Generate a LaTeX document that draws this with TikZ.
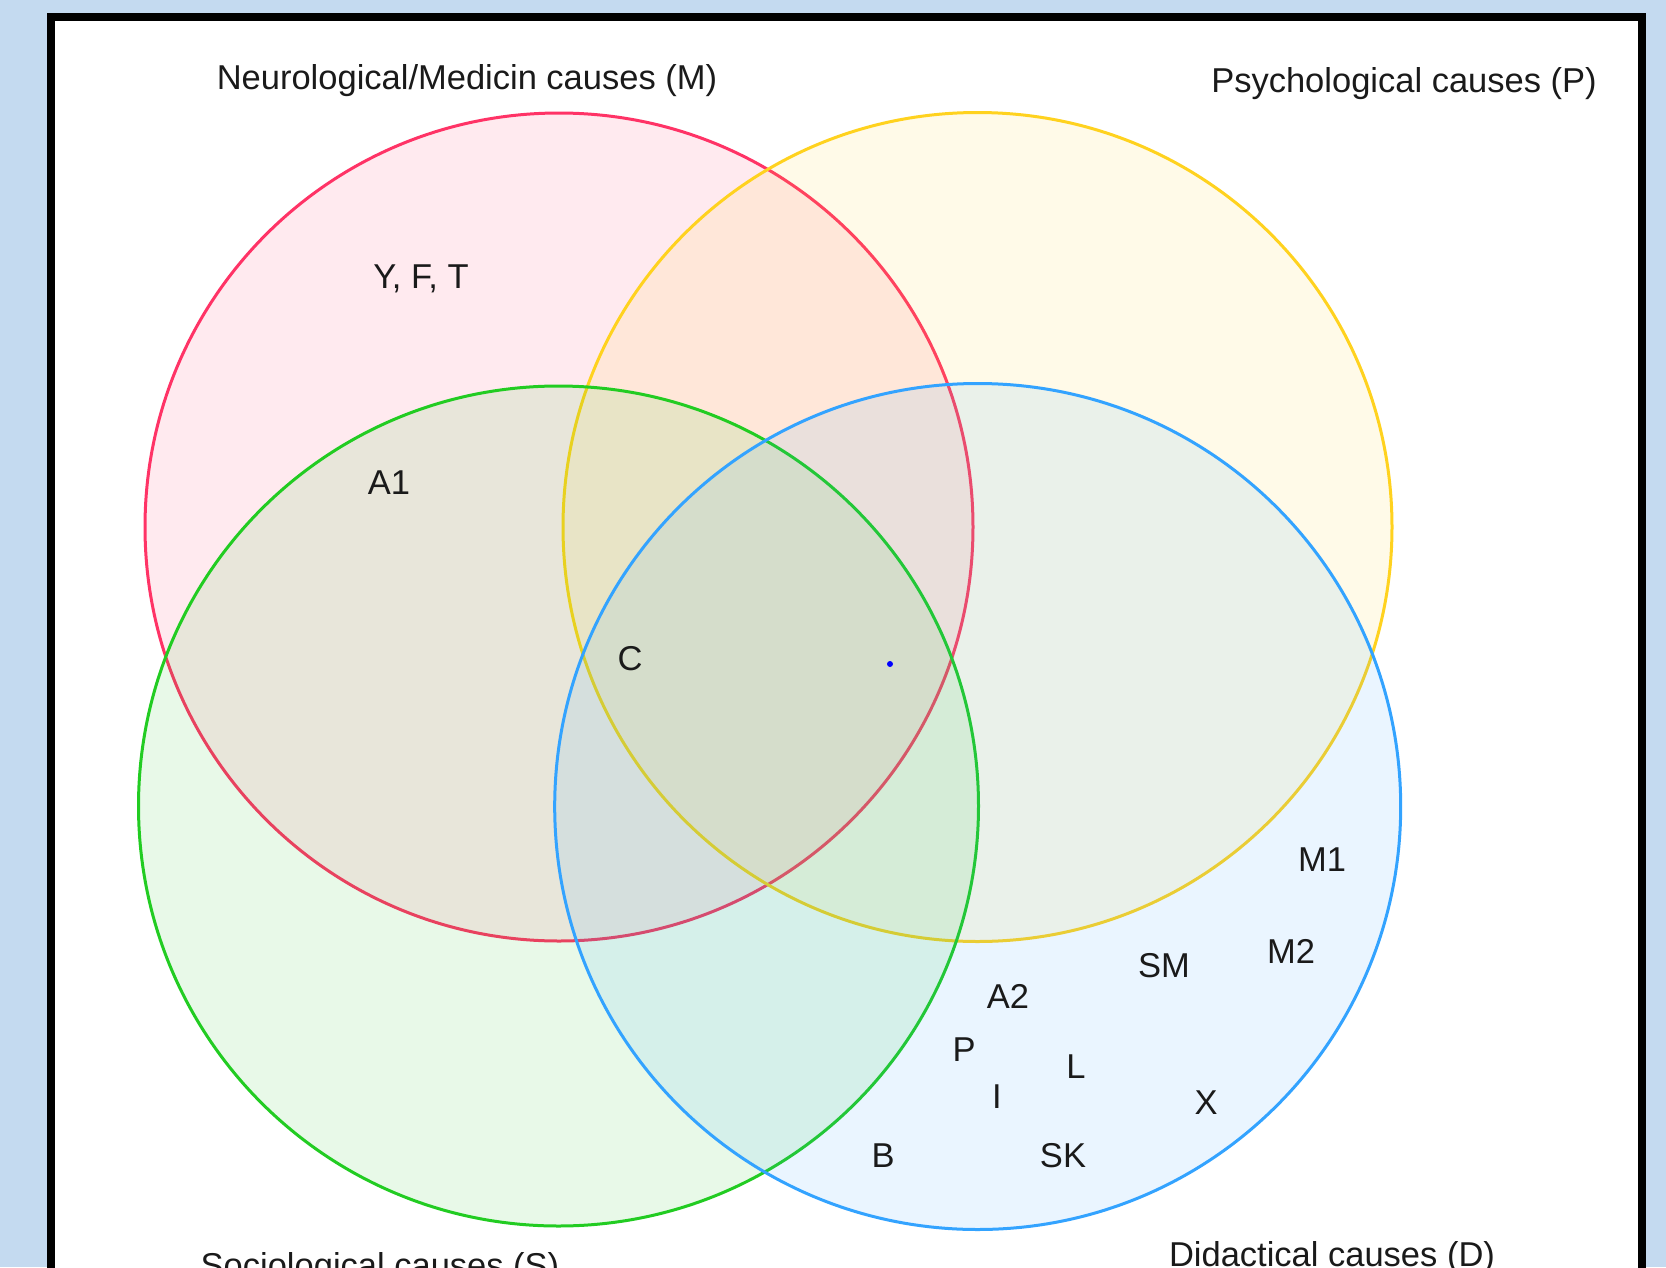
\documentclass[tikz,border=0pt]{standalone}
\usepackage{fontspec}
\setmainfont{Liberation Sans}
\usetikzlibrary{positioning}
\definecolor{frame}{HTML}{C4DAF0}
\definecolor{redset}{HTML}{FF3366}
\definecolor{yellowset}{HTML}{FFD21F}
\definecolor{greenset}{HTML}{22CC22}
\definecolor{blueset}{HTML}{33A3FF}
\definecolor{ink}{HTML}{1A1A1A}
\tikzset{
  every node/.style={font=\fontsize{34.5}{41}\selectfont,text=ink},
  venn/.style={circle,line width=3pt,fill opacity=0.1,draw opacity=1,inner sep=0pt,outer sep=0pt},
  lbl/.style={anchor=base,inner sep=0pt},
}

\begin{document}
\begin{tikzpicture}[x=1pt,y=-1pt]
  \useasboundingbox (0,0) rectangle (1666,1267);
  \clip (0,0) rectangle (1666,1267);
  \fill[frame] (0,0) rectangle (1666,1267);
  \draw[line width=8pt,fill=white] (51,17) rectangle (1641.5,1330);
  % the four sets
  \node[venn,draw=redset,fill=redset,minimum size=828pt] (M) at (559,527) {};
  \node[venn,draw=yellowset,fill=yellowset,minimum size=829pt] (P) at (977.5,527) {};
  \node[venn,draw=greenset,fill=greenset,minimum size=840pt] (S) at (558.5,806) {};
  \node[venn,draw=blueset,fill=blueset,minimum size=846pt] (D) at (977.7,806.5) {};
  \node[circle,fill=blue,minimum size=6pt,inner sep=0pt] (dot) at (890,664) {};
  % set titles
  \node[lbl] (tM) at (467,89) {Neurological/Medicin causes (M)};
  \node[lbl] (tP) at (1404,92) {Psychological causes (P)};
  \node[lbl] (tS) at (380,1277) {Sociological causes (S)};
  \node[lbl] (tD) at (1332,1266) {Didactical causes (D)};
  % members
  \node[lbl] (yft) at (421,288) {Y, F, T};
  \node[lbl] (a1) at (389,494) {A1};
  \node[lbl] (c) at (630,670) {C};
  \node[lbl] (m1) at (1322,871) {M1};
  \node[lbl] (m2) at (1291,963) {M2};
  \node[lbl] (sm) at (1164,977) {SM};
  \node[lbl] (a2) at (1008,1008) {A2};
  \node[lbl] (p) at (964,1061) {P};
  \node[lbl] (l) at (1076,1078) {L};
  \node[lbl] (i) at (997,1108) {I};
  \node[lbl] (x) at (1206,1114) {X};
  \node[lbl] (b) at (883,1167) {B};
  \node[lbl] (sk) at (1063,1167) {SK};
\end{tikzpicture}
\end{document}
